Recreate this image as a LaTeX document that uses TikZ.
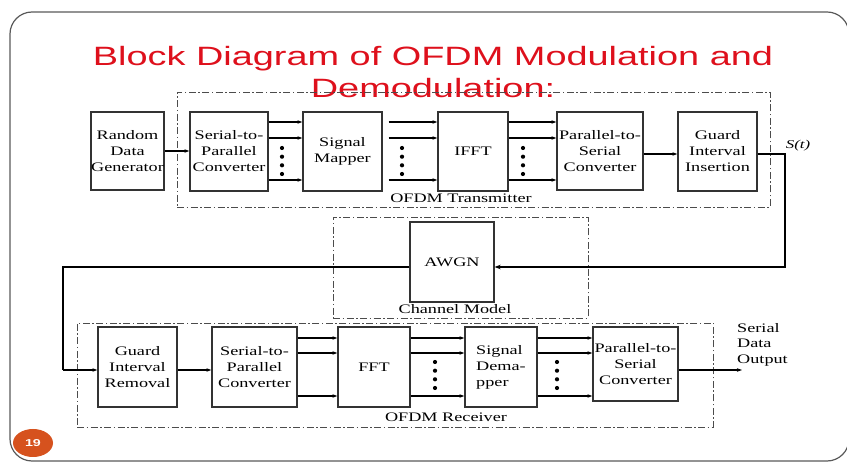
\documentclass[tikz,border=0pt]{standalone}
\usepackage{fontspec}
\setmainfont{Liberation Serif}
\newfontfamily\diag[FakeStretch=1.4]{Liberation Serif}
\newfontfamily\ttlfont[FakeStretch=1.43]{Liberation Sans}
\usetikzlibrary{arrows.meta,shapes.geometric}
\definecolor{ttlred}{RGB}{222,16,28}
\definecolor{pgorange}{RGB}{214,82,30}
\begin{document}
\begin{tikzpicture}[x=1pt,y=-1pt,
  blk/.style={draw=black!80, line width=1.3pt, inner sep=0pt, align=center,
    font=\diag\fontsize{13}{16}\selectfont},
  grp/.style={draw=black!70, line width=0.9pt,
    dash pattern=on 7pt off 2.5pt on 1.5pt off 2.5pt, inner sep=0pt},
  arr/.style={line width=1.1pt, -{Stealth[length=5pt,width=3.5pt]}},
  thk/.style={line width=1.8pt},
  lbl/.style={font=\diag\fontsize{13}{16}\selectfont, inner sep=0pt},
  ttl/.style={font=\ttlfont\fontsize{26.5}{32}\selectfont, text=ttlred, inner sep=0pt, anchor=base}]
\clip (0,0) rectangle (847,462);
\useasboundingbox (0,0) rectangle (847,462);
% slide frame
\draw[draw=black!65, line width=1.2pt, rounded corners=22pt] (10,12) rectangle (849,461);
% title
\node[ttl] (t1) at (433,66) {Block Diagram of OFDM Modulation and};
\node[ttl] (t2) at (433,98) {Demodulation:};
% group frames
\node[grp, minimum width=593, minimum height=115] (tx) at (473.5,149.5) {};
\node[grp, minimum width=255, minimum height=101] (chan) at (460.5,267.5) {};
\node[grp, minimum width=636, minimum height=104] (rx) at (395,375) {};
\node[lbl] (txl) at (461,198) {OFDM Transmitter};
\node[lbl] (chl) at (455,309) {Channel Model};
\node[lbl] (rxl) at (446,417) {OFDM Receiver};
% transmitter blocks
\node[blk, minimum width=71, minimum height=78] (rdg) at (127.5,151) {Random\\Data\\Generator};
\node[blk, minimum width=78, minimum height=79] (sp1) at (229,151.5) {Serial-to-\\Parallel\\Converter};
\node[blk, minimum width=79, minimum height=79] (map) at (342.5,151.5) {Signal\\Mapper};
\node[blk, minimum width=70, minimum height=79] (ifft) at (473,151.5) {IFFT};
\node[blk, minimum width=86, minimum height=78] (ps1) at (600,151) {Parallel-to-\\Serial\\Converter};
\node[blk, minimum width=79, minimum height=79] (gii) at (717.5,151.5) {Guard\\Interval\\Insertion};
% channel
\node[blk, minimum width=84, minimum height=80] (awgn) at (452,262) {AWGN};
% receiver blocks
\node[blk, minimum width=79, minimum height=80] (gir) at (137.5,367) {Guard\\Interval\\Removal};
\node[blk, minimum width=85, minimum height=80] (sp2) at (254.5,367) {Serial-to-\\Parallel\\Converter};
\node[blk, minimum width=72, minimum height=80] (fft) at (374,367) {FFT};
\node[blk, minimum width=72, minimum height=80, align=left] (dem) at (501,367) {Signal\\Dema-\\pper};
\node[blk, minimum width=85, minimum height=74] (ps2) at (635.5,364) {Parallel-to-\\Serial\\Converter};
% text labels
\node[lbl, font=\diag\itshape\fontsize{12}{14}\selectfont] (st) at (798,146) {S(t)};
\node[lbl, anchor=north west, align=left, font=\diag\fontsize{13}{15.5}\selectfont] (sdo) at (737,323) {Serial\\Data\\Output};
% transmitter connectors
\draw[arr] (rdg.east |- 0,151) -- (sp1.west |- 0,151);
\foreach \yy in {122,138,180} {
  \draw[arr] (sp1.east |- 0,\yy) -- (map.west |- 0,\yy);
  \draw[arr] ([xshift=6pt]map.east |- 0,\yy) -- (ifft.west |- 0,\yy);
  \draw[arr] (ifft.east |- 0,\yy) -- (ps1.west |- 0,\yy);
}
\foreach \xx in {282,402,523} {
  \foreach \yy in {148,156.7,165.3,174} { \fill (\xx,\yy) circle (2.1pt); }
}
\draw[arr] (ps1.east |- 0,154) -- (gii.west |- 0,154);
% channel connectors
\coordinate (c1) at (785,154);
\coordinate (c2) at (785,267);
\coordinate (c3) at (63,267);
\coordinate (c4) at (63,370);
\draw[thk, -{Stealth[length=6pt,width=4.5pt]}] (gii.east |- c1) -- (c1) -- (c2) -- (awgn.east |- c2);
\draw[thk] (awgn.west |- c3) -- (c3) -- (c4);
\draw[arr] (c4) -- (gir.west |- c4);
% receiver connectors
\draw[arr] (gir.east |- 0,370) -- (sp2.west |- 0,370);
\foreach \yy in {338,353,396} {
  \draw[arr] (sp2.east |- 0,\yy) -- (fft.west |- 0,\yy);
  \draw[arr] (fft.east |- 0,\yy) -- (dem.west |- 0,\yy);
  \draw[arr] (dem.east |- 0,\yy) -- (ps2.west |- 0,\yy);
}
\foreach \xx in {435,557} {
  \foreach \yy in {362,370.7,379.3,388} { \fill (\xx,\yy) circle (2.1pt); }
}
\coordinate (out) at (742,370);
\draw[arr] (ps2.east |- out) -- (out);
% page number
\node[ellipse, fill=pgorange, minimum width=40pt, minimum height=28pt, inner sep=0pt,
  text=white, font=\ttlfont\bfseries\fontsize{10}{11}\selectfont] (pg) at (33,443) {19};
\end{tikzpicture}
\end{document}
